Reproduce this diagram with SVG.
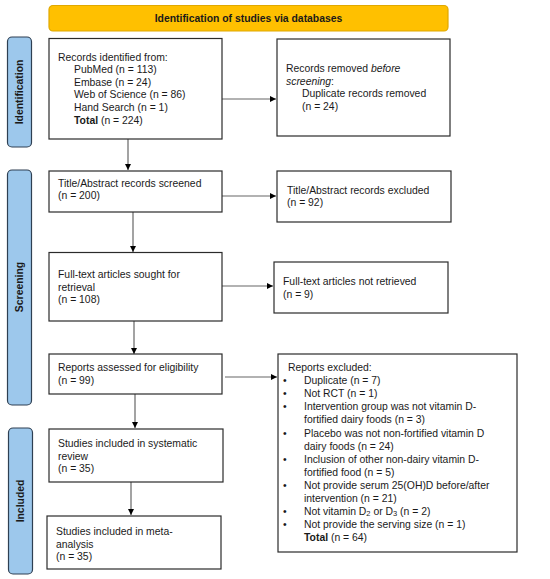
<svg xmlns="http://www.w3.org/2000/svg" width="550" height="579" viewBox="0 0 550 579">
<style>
  text { font-family: "Liberation Sans", Arial, sans-serif; font-size: 10.4px; fill: #1a1a1a; }
  .box { fill: #ffffff; stroke: #2b2b2b; stroke-width: 1.2; }
  .side { fill: #9DC8EC; stroke: #2e3f52; stroke-width: 1.2; }
  .banner { fill: #FFC000; stroke: #E0A800; stroke-width: 1.2; }
  .lbl { font-weight: bold; text-anchor: middle; }
  .conn { stroke: #666666; stroke-width: 1.2; fill: none; marker-end: url(#ah); }
  .b { font-weight: bold; }
  .i { font-style: italic; }
</style>
<defs>
  <marker id="ah" viewBox="0 0 10 10" refX="10" refY="5" markerWidth="5" markerHeight="5" markerUnits="strokeWidth" orient="auto">
    <path d="M0,0 L10,5 L0,10 z" fill="#000000"/>
  </marker>
</defs>
<rect width="550" height="579" fill="#ffffff"/>

<g id="banner">
  <rect class="banner" x="49" y="5.5" width="399" height="25.5" rx="4"/>
  <text class="lbl" x="248.5" y="21.8">Identification of studies via databases</text>
</g>

<g id="side-identification">
  <rect class="side" x="7.5" y="37" width="24" height="110" rx="4.5"/>
  <text class="lbl" transform="translate(23.3,92) rotate(-90)">Identification</text>
</g>
<g id="side-screening">
  <rect class="side" x="7.5" y="170" width="24" height="235" rx="4.5"/>
  <text class="lbl" transform="translate(23.3,287) rotate(-90)">Screening</text>
</g>
<g id="side-included">
  <rect class="side" x="8.5" y="428" width="24" height="146" rx="4.5"/>
  <text class="lbl" transform="translate(24.3,501) rotate(-90)">Included</text>
</g>

<g id="connectors">
  <line class="conn" x1="222" y1="99" x2="276" y2="99"/>
  <line class="conn" x1="128" y1="139" x2="128" y2="170"/>
  <line class="conn" x1="222" y1="196" x2="276" y2="196"/>
  <line class="conn" x1="133" y1="212" x2="133" y2="252"/>
  <line class="conn" x1="222" y1="286" x2="273" y2="286"/>
  <line class="conn" x1="134" y1="321" x2="134" y2="354"/>
  <line class="conn" x1="225" y1="377" x2="277" y2="377"/>
  <line class="conn" x1="135" y1="394" x2="135" y2="428"/>
  <line class="conn" x1="131" y1="482" x2="131" y2="515"/>
</g>

<g id="records-identified">
  <rect class="box" x="49" y="38.5" width="173" height="100.5"/>
  <text x="58" y="60.5">Records identified from:</text>
  <text x="74" y="73.1">PubMed (n = 113)</text>
  <text x="74" y="85.7">Embase (n = 24)</text>
  <text x="74" y="98.3">Web of Science (n = 86)</text>
  <text x="74" y="110.9">Hand Search (n = 1)</text>
  <text x="74" y="123.5"><tspan class="b">Total</tspan> (n = 224)</text>
</g>

<g id="records-removed">
  <rect class="box" x="277" y="39" width="173" height="97"/>
  <text x="286" y="72">Records removed <tspan class="i">before</tspan></text>
  <text x="286" y="84.6"><tspan class="i">screening</tspan>:</text>
  <text x="302" y="97.2">Duplicate records removed</text>
  <text x="302" y="109.8">(n = 24)</text>
</g>

<g id="title-abstract-screened">
  <rect class="box" x="49" y="171" width="173" height="41"/>
  <text x="58" y="186.5">Title/Abstract records screened</text>
  <text x="58" y="199.1">(n = 200)</text>
</g>

<g id="title-abstract-excluded">
  <rect class="box" x="277" y="171" width="174" height="51"/>
  <text x="287" y="193.5">Title/Abstract records excluded</text>
  <text x="287" y="206.1">(n = 92)</text>
</g>

<g id="full-text-sought">
  <rect class="box" x="49" y="252.5" width="173" height="68.5"/>
  <text x="58" y="278">Full-text articles sought for</text>
  <text x="58" y="290.6">retrieval</text>
  <text x="58" y="303.2">(n = 108)</text>
</g>

<g id="full-text-not-retrieved">
  <rect class="box" x="274" y="262" width="174" height="51"/>
  <text x="283" y="285">Full-text articles not retrieved</text>
  <text x="283" y="297.6">(n = 9)</text>
</g>

<g id="reports-assessed">
  <rect class="box" x="49" y="354" width="173" height="40"/>
  <text x="58" y="371">Reports assessed for eligibility</text>
  <text x="58" y="383.6">(n = 99)</text>
</g>

<g id="reports-excluded">
  <rect class="box" x="278" y="354" width="239" height="198"/>
  <text x="288" y="371">Reports excluded:</text>
  <text x="283" y="384.1">•</text><text x="304" y="384.1">Duplicate (n = 7)</text>
  <text x="283" y="397.2">•</text><text x="304" y="397.2">Not RCT (n = 1)</text>
  <text x="283" y="410.3">•</text><text x="304" y="410.3">Intervention group was not vitamin D-</text>
  <text x="304" y="423.4">fortified dairy foods (n = 3)</text>
  <text x="283" y="436.5">•</text><text x="304" y="436.5">Placebo was not non-fortified vitamin D</text>
  <text x="304" y="449.6">dairy foods (n = 24)</text>
  <text x="283" y="462.7">•</text><text x="304" y="462.7">Inclusion of other non-dairy vitamin D-</text>
  <text x="304" y="475.8">fortified food (n = 5)</text>
  <text x="283" y="488.9">•</text><text x="304" y="488.9">Not provide serum 25(OH)D before/after</text>
  <text x="304" y="502">intervention (n = 21)</text>
  <text x="283" y="515.1">•</text><text x="304" y="515.1">Not vitamin D<tspan font-size="7.5" dy="1">2</tspan><tspan dy="-1"> or D</tspan><tspan font-size="7.5" dy="1">3</tspan><tspan dy="-1"> (n = 2)</tspan></text>
  <text x="283" y="528.2">•</text><text x="304" y="528.2">Not provide the serving size (n = 1)</text>
  <text x="304" y="541.3"><tspan class="b">Total</tspan> (n = 64)</text>
</g>

<g id="studies-systematic-review">
  <rect class="box" x="49" y="429" width="174" height="53"/>
  <text x="58" y="447">Studies included in systematic</text>
  <text x="58" y="459.6">review</text>
  <text x="58" y="472.2">(n = 35)</text>
</g>

<g id="studies-meta-analysis">
  <rect class="box" x="47" y="516" width="174" height="53"/>
  <text x="56" y="535">Studies included in meta-</text>
  <text x="56" y="547.6">analysis</text>
  <text x="56" y="560.2">(n = 35)</text>
</g>
</svg>
